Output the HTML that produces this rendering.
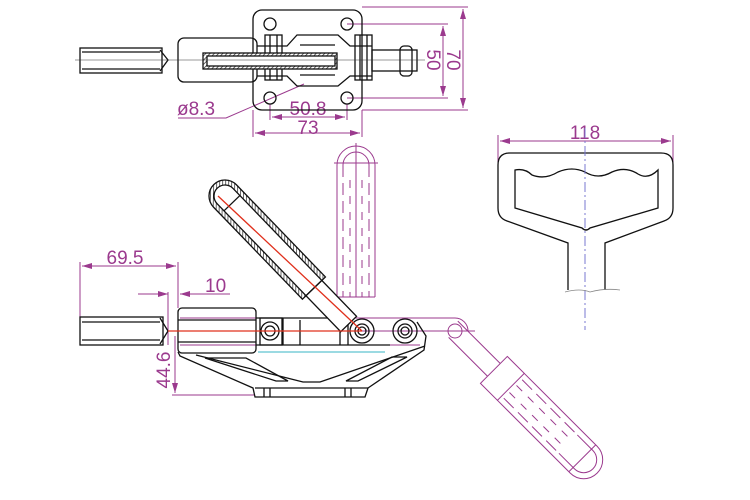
<!DOCTYPE html>
<html><head><meta charset="utf-8"><style>
html,body{margin:0;padding:0;background:#fff;width:750px;height:500px;overflow:hidden}
svg{display:block}
text{font-family:"Liberation Sans",sans-serif;fill:#9b3a8e}
</style></head><body>
<svg width="750" height="500" viewBox="0 0 750 500" xmlns="http://www.w3.org/2000/svg">
<defs>
<pattern id="h" width="3" height="3" patternUnits="userSpaceOnUse" patternTransform="rotate(45)"><rect width="3" height="3" fill="#fff"/><line x1="0" y1="0" x2="0" y2="3" stroke="#222" stroke-width="1.4"/></pattern>
<marker id="a" viewBox="0 0 10 6" refX="10" refY="3" markerWidth="10" markerHeight="6" orient="auto-start-reverse"><path d="M0,0L10,3L0,6z" fill="#9b3a8e"/></marker>
</defs>
<g fill="none" stroke="#9b3a8e" stroke-width="1">
<line x1="362" y1="7" x2="468" y2="7"/><line x1="347" y1="24" x2="448" y2="24"/>
<line x1="347" y1="98" x2="448" y2="98"/><line x1="362" y1="110" x2="468" y2="110"/>
<line x1="463" y1="9" x2="463" y2="108" marker-start="url(#a)" marker-end="url(#a)"/>
<line x1="443" y1="26" x2="443" y2="96" marker-start="url(#a)" marker-end="url(#a)"/>
<line x1="253" y1="110" x2="253" y2="137"/><line x1="362" y1="110" x2="362" y2="137"/>
<line x1="255" y1="133" x2="360" y2="133" marker-start="url(#a)" marker-end="url(#a)"/>
<line x1="270" y1="104" x2="270" y2="120"/><line x1="347" y1="104" x2="347" y2="120"/>
<line x1="272" y1="117" x2="345" y2="117" marker-start="url(#a)" marker-end="url(#a)"/>
<polyline points="178,118 226,118 304,84"/>
<line x1="80" y1="262" x2="80" y2="318"/><line x1="178" y1="262" x2="178" y2="308"/>
<line x1="82" y1="266" x2="176" y2="266" marker-start="url(#a)" marker-end="url(#a)"/>
<line x1="138" y1="294" x2="168" y2="294" marker-end="url(#a)"/>
<line x1="230" y1="294" x2="180" y2="294"/><line x1="195" y1="294" x2="180" y2="294" marker-end="url(#a)"/>
<line x1="168" y1="292" x2="168" y2="345"/>
<line x1="175" y1="336" x2="175" y2="393" marker-end="url(#a)"/>
<line x1="172" y1="395" x2="255" y2="395"/>
<line x1="180" y1="318" x2="455" y2="318"/><line x1="180" y1="345" x2="420" y2="345"/>
<line x1="180" y1="331" x2="475" y2="331"/>
<path d="M420,318 L455,318 A13,13 0 0 1 468,331"/>
<circle cx="455" cy="331" r="7"/>
<g transform="translate(455,331) rotate(-45)">
<line x1="-9" y1="0" x2="-9" y2="55"/><line x1="9" y1="-5" x2="9" y2="55"/>
<rect x="-19" y="55" width="38" height="24"/>
<line x1="-13" y1="82" x2="-13" y2="160" stroke-dasharray="14,6"/>
<line x1="-5" y1="82" x2="-5" y2="160" stroke-dasharray="8,8"/>
<line x1="5" y1="82" x2="5" y2="160" stroke-dasharray="8,8"/>
<line x1="13" y1="82" x2="13" y2="160" stroke-dasharray="14,6"/>
<path d="M-19,79 L-19,182 A19,19 0 0 0 19,182 L19,79"/>
<path d="M-13,160 L-13,182 A13,13 0 0 0 13,182 L13,160"/>
<line x1="-19" y1="180" x2="19" y2="180"/>
</g>
<path d="M337,297 L337,165 A19,19 0 0 1 375,165 L375,297"/>
<path d="M343,165 A13,13 0 0 1 369,165"/>
<line x1="343" y1="165" x2="343" y2="297" stroke-dasharray="12,6"/>
<line x1="369" y1="165" x2="369" y2="297" stroke-dasharray="12,6"/>
<line x1="350" y1="180" x2="350" y2="297" stroke-dasharray="8,8"/>
<line x1="362" y1="180" x2="362" y2="297" stroke-dasharray="8,8"/>
<line x1="356" y1="143" x2="356" y2="297"/><line x1="334" y1="163" x2="378" y2="163"/>
<line x1="337" y1="297" x2="375" y2="297"/>
<line x1="498" y1="135" x2="498" y2="165"/><line x1="673" y1="135" x2="673" y2="165"/>
<line x1="500" y1="141" x2="671" y2="141" marker-start="url(#a)" marker-end="url(#a)"/>
</g>
<g font-size="19">
<text x="452" y="60" transform="rotate(90 452 60)" text-anchor="middle" dominant-baseline="middle">70</text>
<text x="432" y="60" transform="rotate(90 432 60)" text-anchor="middle" dominant-baseline="middle">50</text>
<text x="308" y="134" text-anchor="middle">73</text>
<text x="308" y="115" text-anchor="middle">50.8</text>
<text x="177" y="115">ø8.3</text>
<text x="125" y="264" text-anchor="middle">69.5</text>
<text x="205" y="292">10</text>
<text x="170" y="370" transform="rotate(-90 170 370)" text-anchor="middle">44.6</text>
<text x="585" y="139" text-anchor="middle">118</text>
</g>
<g fill="none" stroke="#111" stroke-width="1.3">
<rect x="253" y="10" width="109" height="100" rx="9"/>
<circle cx="270" cy="24" r="6"/><circle cx="347" cy="24" r="6"/><circle cx="270" cy="98" r="6"/><circle cx="347" cy="98" r="6"/>
<rect x="80" y="48" width="82" height="25"/><line x1="82" y1="52" x2="160" y2="52"/><line x1="82" y1="69" x2="160" y2="69"/>
<polyline points="160,50 168,60 160,71"/>
<rect x="178" y="38" width="79" height="44" rx="6"/>
<path d="M257,46 L287,46 L297,35 L338,35 L350,46 L372,46 M257,76 L287,76 L297,86 L338,86 L350,76 L372,76"/>
<rect x="265" y="35" width="17" height="45"/><rect x="355" y="35" width="17" height="45"/>
<line x1="270" y1="35" x2="270" y2="80"/><line x1="277" y1="35" x2="277" y2="80"/>
<line x1="360" y1="35" x2="360" y2="80"/><line x1="367" y1="35" x2="367" y2="80"/>
<rect x="372" y="50" width="45" height="21"/>
<rect x="400" y="46" width="12" height="30" rx="4"/>
<rect x="203" y="53" width="134" height="16" fill="url(#h)"/>
<rect x="207" y="56" width="128" height="10" fill="#fff"/>
<line x1="300" y1="45" x2="335" y2="45"/><line x1="300" y1="75" x2="335" y2="75"/>
<rect x="80" y="317" width="83" height="28"/><line x1="82" y1="322" x2="160" y2="322"/><line x1="82" y1="340" x2="160" y2="340"/>
<polyline points="160,318 168,331 160,344"/>
<rect x="178" y="308" width="78" height="45" rx="4"/>
<line x1="178" y1="320" x2="256" y2="320"/><line x1="178" y1="342" x2="256" y2="342"/>
<path d="M256,318 L350,318 M256,345 L390,345"/>
<path d="M260,318 L282,318 L282,345 L260,345 Z"/>
<line x1="283" y1="318" x2="283" y2="345"/><line x1="300" y1="320" x2="300" y2="345"/><line x1="340" y1="320" x2="340" y2="345"/><line x1="348" y1="320" x2="348" y2="345"/>
<circle cx="270" cy="331" r="9"/><circle cx="270" cy="331" r="5"/>
<circle cx="362" cy="331" r="12"/><circle cx="362" cy="331" r="7"/><circle cx="362" cy="331" r="4"/>
<circle cx="405" cy="331" r="12"/><circle cx="405" cy="331" r="7"/><circle cx="405" cy="331" r="4"/>
<path d="M178,352 L180,356 L253,388 L255,397 L365,397 L368,388 L424,350 L426,336 L417,322"/>
<path d="M205,358 L246,358 L288,381 L276,381 Z"/>
<path d="M346,381 L392,357 L407,357 L358,381 Z"/>
<path d="M196,355 L303,382 L320,382 L425,346"/>
<line x1="255" y1="388" x2="368" y2="388"/>
<line x1="264" y1="388" x2="264" y2="397"/><line x1="270" y1="388" x2="270" y2="397"/><line x1="345" y1="388" x2="345" y2="397"/><line x1="351" y1="388" x2="351" y2="397"/>
<g transform="translate(225,196) rotate(-44)">
<path d="M-16,0 A16,16 0 0 1 16,0 L16,128 L-16,128 Z" fill="url(#h)"/>
<path d="M-11,0 A11,11 0 0 1 11,0 L11,128 L-11,128 Z" fill="#fff"/>
<line x1="-11" y1="10" x2="11" y2="10"/>
<rect x="-11" y="128" width="22" height="50" fill="#fff"/>
<line x1="-11" y1="128" x2="11" y2="128"/>
</g>
<path d="M568,290 L568,243 L507,221 Q498,218 498,208 L498,165 Q498,153 510,153 L661,153 Q673,153 673,165 L673,208 Q673,218 664,221 L605,243 L605,290"/>
<path d="M515,170 Q525,168 532,175 Q545,180 558,172 Q572,166 585,172 Q598,180 612,172 Q626,166 638,174 Q648,180 658,170 L658,208 L590,228 Q586,232 582,228 L515,208 Z"/>
</g>
<line x1="218" y1="196" x2="362" y2="331" stroke="#e0301c" stroke-width="1.3"/>
<line x1="168" y1="331" x2="362" y2="331" stroke="#e0301c" stroke-width="1.3"/>
<line x1="258" y1="352" x2="385" y2="352" stroke="#5fc3d0" stroke-width="1.3"/>
<line x1="75" y1="60" x2="425" y2="60" stroke="#333" stroke-width="0.6"/>
<line x1="585" y1="128" x2="585" y2="330" stroke="#7a7ad0" stroke-width="1" stroke-dasharray="10,3,2,3"/>
<path d="M565,292 Q580,288 590,292 Q605,288 620,290" fill="none" stroke="#888" stroke-width="0.8"/>
</svg>
</body></html>
